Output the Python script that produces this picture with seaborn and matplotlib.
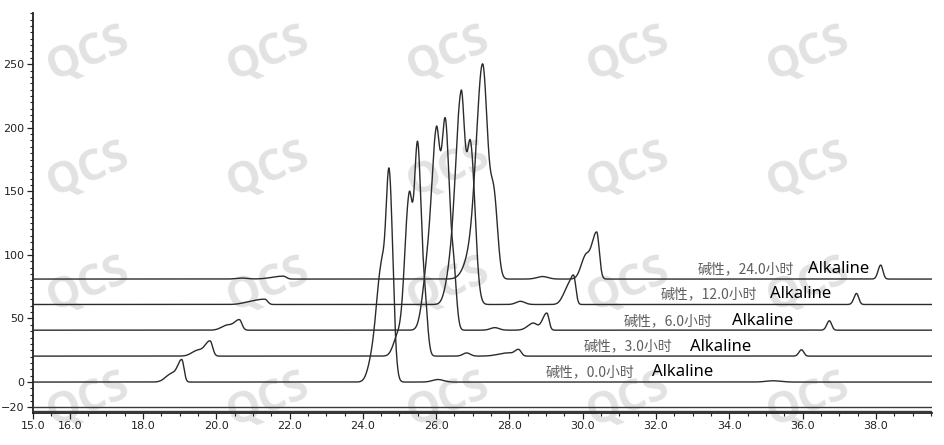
import numpy as np
import pandas as pd
import matplotlib.pyplot as plt
import matplotlib.ticker as mticker
import seaborn as sns

# sample times (hours) and vertical offsets of the stacked traces
hours = ['0.0', '3.0', '6.0', '12.0', '24.0']
baselines = [0, 20.4, 40.8, 61, 81]

# peak tables: retention time, height, left width, right width
peaks_0h = [(18.76, 6, 0.15, 0.12), (19.06, 17.5, 0.12, 0.06),
            (24.25, 15, 0.12, 0.12), (24.5, 85, 0.13, 0.1), (24.72, 160, 0.09, 0.1),
            (26.05, 2, 0.15, 0.15), (35.2, 1, 0.2, 0.2)]
peaks_3h = [(19.47, 4, 0.15, 0.12), (19.83, 12, 0.15, 0.07),
            (24.95, 15, 0.12, 0.12), (25.26, 122, 0.12, 0.09), (25.49, 157, 0.09, 0.09),
            (25.68, 45, 0.1, 0.08), (26.83, 2.5, 0.1, 0.1), (27.95, 2.5, 0.25, 0.15),
            (28.25, 5, 0.1, 0.07), (35.97, 5, 0.07, 0.06)]
peaks_6h = [(20.28, 3.5, 0.15, 0.12), (20.63, 8.3, 0.15, 0.07),
            (25.72, 32, 0.12, 0.1), (26.0, 152, 0.14, 0.1), (26.25, 156, 0.1, 0.1),
            (26.47, 48, 0.1, 0.08), (27.6, 2, 0.12, 0.12), (28.65, 5.5, 0.15, 0.1),
            (29.02, 13.5, 0.12, 0.06), (36.73, 7.4, 0.07, 0.06)]
peaks_12h = [(20.9, 1.5, 0.2, 0.2), (21.33, 4, 0.25, 0.07),
             (26.35, 15, 0.12, 0.1), (26.68, 164, 0.16, 0.1), (26.94, 123, 0.1, 0.12),
             (28.3, 2.5, 0.12, 0.12), (29.56, 10, 0.12, 0.08), (29.75, 22.5, 0.1, 0.06),
             (37.47, 8.7, 0.07, 0.06)]
peaks_24h = [(20.7, 0.8, 0.15, 0.15), (21.83, 2.3, 0.3, 0.08),
             (27.0, 22, 0.2, 0.12), (27.27, 167, 0.16, 0.135), (27.58, 60, 0.1, 0.1),
             (28.9, 2, 0.15, 0.15), (30.06, 15, 0.12, 0.1), (30.38, 37, 0.15, 0.07),
             (38.13, 11, 0.07, 0.06)]
peak_tables = [peaks_0h, peaks_3h, peaks_6h, peaks_12h, peaks_24h]

# label positions (retention time, signal)
label_cjk_x = [29.0, 30.02, 31.11, 32.13, 33.14]
label_alk_x = [31.88, 32.93, 34.06, 35.11, 36.15]
label_y = [8.1, 27.8, 48.2, 69.2, 88.8]

x = np.linspace(15, 39.53, 6000)


def trace(peaks, base):
    y = np.full_like(x, base, dtype=float)
    for c, h, sl, sr in peaks:
        s = np.where(x < c, sl, sr)
        y += h * np.exp(-(x - c) ** 2 / (2 * s ** 2))
    return y


frames = []
for i, (peaks, base) in enumerate(zip(peak_tables, baselines)):
    frames.append(pd.DataFrame({'time': x, 'signal': trace(peaks, base), 'run': hours[i]}))
df = pd.concat(frames, ignore_index=True)

sns.set_style('ticks')
plt.rcParams['font.family'] = ['Liberation Sans Narrow', 'DejaVu Sans']

fig = plt.figure(figsize=(9.45, 4.45), dpi=100)
ax = fig.add_axes([33 / 945, 1 - 412.7 / 445, 899 / 945, 399.4 / 445])
ax.set_facecolor('none')

# QCS watermark grid
for cx in np.arange(88, 900, 180):
    for cy in [54, 170, 285, 400]:
        ax.text(cx / 945, 1 - cy / 445, 'QCS', transform=fig.transFigure,
                fontsize=31, fontweight='bold', family='Open Sans', color='#e2e2e2',
                rotation=22, ha='center', va='center', zorder=0, clip_on=False)

sns.lineplot(data=df, x='time', y='signal', units='run', estimator=None, sort=False,
             color='#2b2b2b', linewidth=1.0, ax=ax, zorder=3)

ax.axhline(-20, color='#3a3a3a', lw=1.0, zorder=3)
ax.axhline(-22.6, color='#3a3a3a', lw=1.0, zorder=3)

for i in range(len(hours)):
    ax.text(label_cjk_x[i], label_y[i], '碱性，' + hours[i] + '小时', color='#5e5e5e',
            fontsize=10, family=['Noto Sans CJK SC', 'DejaVu Sans'], va='center', zorder=4)
    ax.text(label_alk_x[i], label_y[i], 'Alkaline', color='black',
            fontsize=12, family='Noto Sans', va='center', zorder=4)

ax.set_xlim(15, 39.53)
ax.set_ylim(-24.1, 290)
ax.set_xticks([15, 16, 18, 20, 22, 24, 26, 28, 30, 32, 34, 36, 38])
ax.xaxis.set_major_formatter(mticker.FormatStrFormatter('%.1f'))
ax.xaxis.set_minor_locator(mticker.MultipleLocator(0.5))
ax.set_yticks([-20, 0, 50, 100, 150, 200, 250])
ax.yaxis.set_minor_locator(mticker.MultipleLocator(5))
ax.tick_params(axis='both', which='major', direction='out', length=4, width=0.9,
               labelsize=8, pad=2, colors='#222222')
ax.tick_params(axis='both', which='minor', direction='out', length=2, width=0.8,
               colors='#222222')
ax.set_xlabel('')
ax.set_ylabel('')
for side in ['top', 'right']:
    ax.spines[side].set_visible(False)
for side in ['left', 'bottom']:
    ax.spines[side].set_linewidth(1.3)
    ax.spines[side].set_color('#222222')

fig.savefig('out.png', dpi=100)
plt.close(fig)
